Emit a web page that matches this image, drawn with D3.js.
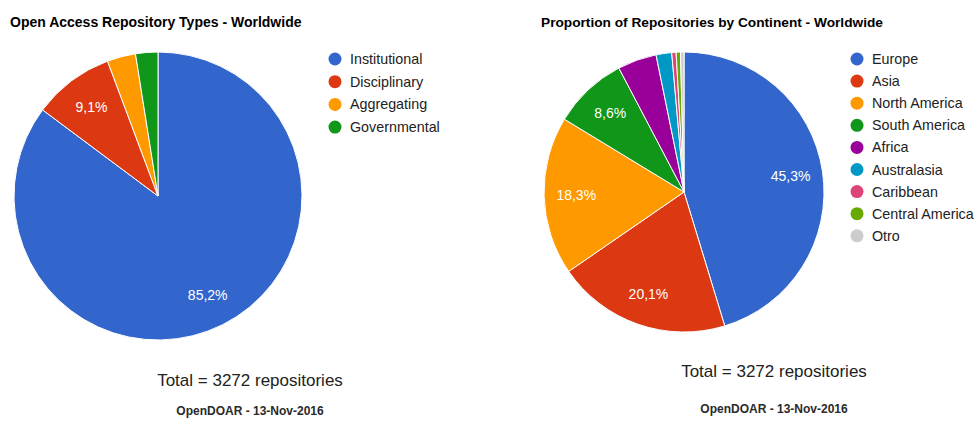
<!DOCTYPE html>
<html>
<head>
<meta charset="utf-8">
<script src="https://cdn.jsdelivr.net/npm/d3@7"></script>
<style>
  html, body { margin: 0; padding: 0; background: #fff; }
  svg { display: block; font-family: Arial, "Liberation Sans", sans-serif; }
</style>
</head>
<body>
<svg id="chart" width="975" height="424"></svg>
<script>
// Repository types
const typeCategories = ["Institutional", "Disciplinary", "Aggregating", "Governmental"];
const typeValues = [85.2, 9.1, 3.2, 2.5];
const typeColors = ["#3366cc", "#dc3912", "#ff9900", "#109618"];

// Repositories by continent
const continentCategories = ["Europe", "Asia", "North America", "South America", "Africa",
  "Australasia", "Caribbean", "Central America", "Otro"];
const continentValues = [45.3, 20.1, 18.3, 8.6, 4.5, 1.8, 0.5, 0.5, 0.4];
const continentColors = ["#3366cc", "#dc3912", "#ff9900", "#109618", "#990099",
  "#0099c6", "#dd4477", "#66aa00", "#cccccc"];

const totalText = "Total = 3272 repositories";
const sourceText = "OpenDOAR - 13-Nov-2016";

const svg = d3.select("#chart");

function drawPie(cfg) {
  const g = svg.append("g");

  g.append("text")
    .attr("x", cfg.titleX).attr("y", cfg.titleY)
    .attr("font-size", cfg.titleSize).attr("font-weight", "bold").attr("fill", "#000")
    .text(cfg.title);

  const data = cfg.categories.map((c, i) => ({ name: c, value: cfg.values[i], color: cfg.colors[i] }));
  const pie = d3.pie().sort(null).value(d => d.value);
  const arcs = pie(data);
  const arc = d3.arc().innerRadius(0).outerRadius(cfg.r);
  const labelArc = d3.arc().innerRadius(cfg.r * 0.77).outerRadius(cfg.r * 0.77);

  const pg = g.append("g").attr("transform", `translate(${cfg.cx},${cfg.cy})`);
  pg.selectAll("path").data(arcs).join("path")
    .attr("d", arc)
    .attr("fill", d => d.data.color)
    .attr("stroke", "#fff").attr("stroke-width", 1);

  pg.selectAll("text").data(arcs.filter(d => d.data.value >= 5)).join("text")
    .attr("transform", d => `translate(${labelArc.centroid(d)})`)
    .attr("text-anchor", "middle").attr("dy", "0.35em")
    .attr("font-size", 14).attr("fill", "#fff")
    .text(d => d3.format(".1f")(d.data.value).replace(".", ",") + "%");

  const legendY = d3.scalePoint().domain(cfg.categories)
    .range([cfg.legendTop, cfg.legendTop + cfg.legendStep * (cfg.categories.length - 1)]);
  const lg = g.append("g");
  const items = lg.selectAll("g").data(data).join("g")
    .attr("transform", d => `translate(${cfg.legendX},${legendY(d.name)})`);
  items.append("circle").attr("r", 6.5).attr("fill", d => d.color);
  items.append("text").attr("x", 15).attr("dy", "0.35em")
    .attr("font-size", 14.3).attr("fill", "#222").text(d => d.name);

  g.append("text")
    .attr("x", cfg.footX).attr("y", cfg.totalY)
    .attr("text-anchor", "middle").attr("font-size", 17).attr("fill", "#222")
    .text(totalText);
  g.append("text")
    .attr("x", cfg.footX).attr("y", cfg.sourceY)
    .attr("text-anchor", "middle").attr("font-size", 12).attr("font-weight", "bold")
    .attr("fill", "#2a2a2a")
    .text(sourceText);
}

drawPie({
  title: "Open Access Repository Types - Worldwide",
  titleX: 10, titleY: 27, titleSize: 14,
  categories: typeCategories, values: typeValues, colors: typeColors,
  cx: 158, cy: 196, r: 144,
  legendX: 335, legendTop: 59, legendStep: 22.7,
  footX: 250, totalY: 386, sourceY: 415
});

drawPie({
  title: "Proportion of Repositories by Continent - Worldwide",
  titleX: 541, titleY: 27, titleSize: 13.7,
  categories: continentCategories, values: continentValues, colors: continentColors,
  cx: 684, cy: 192, r: 140,
  legendX: 857, legendTop: 59, legendStep: 22.1,
  footX: 774, totalY: 377, sourceY: 413
});
</script>
</body>
</html>
